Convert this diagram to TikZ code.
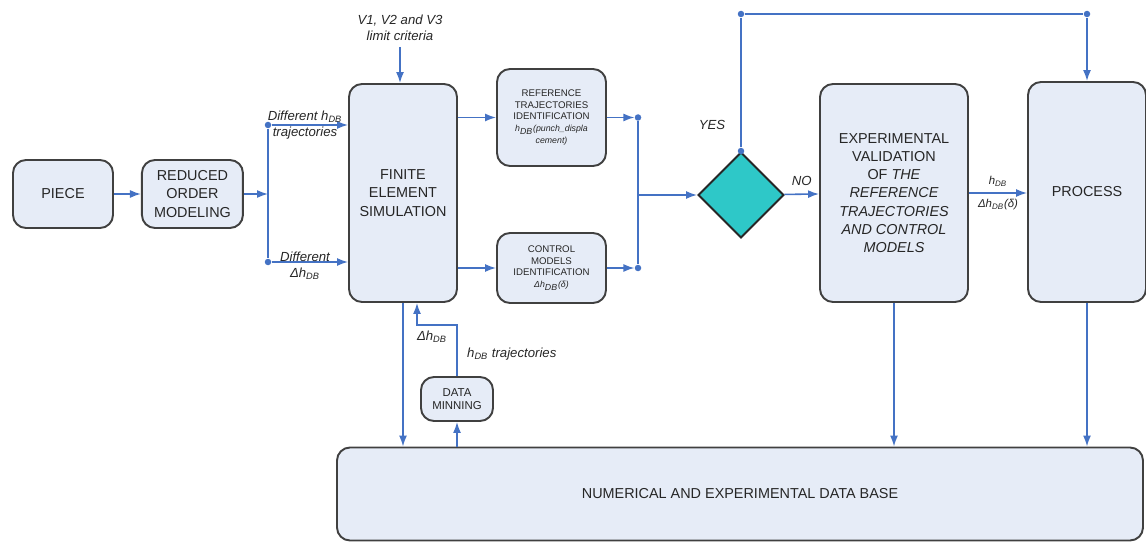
\documentclass[tikz,border=0pt]{standalone}
\usepackage{fontspec}
\setmainfont{Liberation Sans}
\usetikzlibrary{shapes.geometric, arrows.meta, positioning, calc}
\definecolor{flowblue}{RGB}{68,114,196}
\definecolor{boxfill}{RGB}{230,236,247}
\definecolor{decision}{RGB}{46,200,200}
\newcommand{\hdb}{\textit{h}\textsubscript{\textit{DB}}}

\begin{document}
\begin{tikzpicture}[
  box/.style={rectangle, rounded corners=0.26cm, draw=black!75, line width=1.1pt, fill=boxfill, align=center, font=\fontsize{8.2}{10.4}\selectfont, text=black!85},
  tinybox/.style={box, font=\fontsize{5.5}{6.6}\selectfont, inner sep=1pt},
  arrow/.style={-{Latex[length=2.2mm,width=1.6mm]}, flowblue, line width=0.9pt},
  link/.style={flowblue, line width=0.9pt},
  dot/.style={circle, fill=flowblue, inner sep=0pt, minimum size=1.3mm},
  lbl/.style={font=\fontsize{7.5}{9}\selectfont\itshape, text=black!85, align=center}
]
\useasboundingbox (0,0) rectangle (22.92,-10.86);

% main chain
\node (piece) [box, minimum width=2cm, minimum height=1.36cm] at (1.26,-3.88) {PIECE};
\node (rom) [box, minimum width=2.02cm, minimum height=1.36cm, right=0.54cm of piece] {REDUCED\\ORDER\\MODELING};
\node (fem) [box, minimum width=2.16cm, minimum height=4.36cm] at (8.06,-3.86) {FINITE\\ELEMENT\\SIMULATION};
\node (refid) [tinybox, minimum width=2.18cm, minimum height=1.94cm] at (11.03,-2.35)
  {REFERENCE\\TRAJECTORIES\\IDENTIFICATION\\{\fontsize{5}{6.6}\selectfont\itshape h\textsubscript{DB}(punch\_displa}\\{\fontsize{5}{6.6}\selectfont\itshape cement)}};
\node (ctrlid) [tinybox, minimum width=2.18cm, minimum height=1.4cm] at (11.03,-5.36)
  {CONTROL\\MODELS\\IDENTIFICATION\\{\fontsize{5}{6.6}\selectfont\itshape Δh\textsubscript{DB}(δ)}};
\node (check) [diamond, draw=black!85, line width=1.1pt, fill=decision, minimum width=1.72cm, minimum height=1.72cm, inner sep=0pt] at (14.82,-3.9) {};
\node (expval) [box, minimum width=2.96cm, minimum height=4.36cm] at (17.88,-3.86)
  {EXPERIMENTAL\\VALIDATION\\OF \textit{THE}\\\textit{REFERENCE}\\\textit{TRAJECTORIES}\\\textit{AND CONTROL}\\\textit{MODELS}};
\node (process) [box, minimum width=2.36cm, minimum height=4.4cm] at (21.74,-3.84) {PROCESS};
\node (db) [box, minimum width=16.12cm, minimum height=1.86cm] at (14.8,-9.88) {NUMERICAL AND EXPERIMENTAL DATA BASE};
\node (dm) [tinybox, font=\fontsize{6.5}{7.8}\selectfont, minimum width=1.44cm, minimum height=0.88cm] at (9.14,-7.98) {DATA\\MINNING};

% split after the reduced model
\node (dtop) [dot] at (5.36,-2.5) {};
\node (dbot) [dot] at (5.36,-5.24) {};
\draw [arrow] (piece) -- (rom);
\draw [arrow] (rom) -- (rom -| dtop);
\draw [link] (dtop) -- (dbot);
\draw [arrow] (dtop) -- (dtop -| fem.west);
\draw [arrow] (dbot) -- (dbot -| fem.west);
\node [lbl] at (6.1,-2.5) {Different \hdb\\trajectories};
\node [lbl] at (6.1,-5.32) {Different\\Δ\hdb};

\node (crit) [lbl] at (8.0,-0.56) {V1, V2 and V3\\limit criteria};
\draw [arrow] (crit.south) -- (crit.south |- fem.north);

% identification and merge
\draw [arrow] (fem.east |- refid) -- (refid);
\draw [arrow] (fem.east |- ctrlid) -- (ctrlid);
\node (mtop) [dot] at (12.76,-2.35) {};
\node (mbot) [dot] at (12.76,-5.36) {};
\draw [arrow] (refid) -- (mtop);
\draw [arrow] (ctrlid) -- (mbot);
\draw [link] (mtop) -- (mbot);
\draw [arrow] (mtop |- check) -- (check);

% decision
\draw [arrow] (check) -- node[lbl, above=1pt] {NO} (expval);
\node (cdot) [dot] at (check.north) {};
\coordinate (toprow) at (0,-0.28);
\node (ytop) [dot] at (cdot |- toprow) {};
\node (ptop) [dot] at (process.north |- toprow) {};
\draw [link] (cdot) -- (ytop) -- (ptop);
\draw [arrow] (ptop) -- (process.north);
\node [lbl] at (14.24,-2.5) {YES};

\draw [arrow] (expval.east) -- node[lbl, font=\fontsize{6.5}{7.8}\selectfont\itshape, above] {\hdb} node[lbl, font=\fontsize{6.5}{7.8}\selectfont\itshape, below] {Δ\hdb(δ)} (expval.east -| process.west);

% data base links
\draw [arrow] (fem) -- (fem |- db.north);
\draw [arrow] (expval) -- (expval |- db.north);
\draw [arrow] (process) -- (process |- db.north);
\draw [arrow] (dm |- db.north) -- (dm);
\coordinate (dmturn) at (9.14,-6.5);
\coordinate (fbturn) at (8.34,-6.5);
\draw [arrow] (dm.north) -- (dmturn) -- (fbturn) -- (fbturn |- fem.south);
\node [lbl] at (8.64,-6.74) {Δ\hdb};
\node [lbl, anchor=west] at (9.22,-7.08) {\hdb\ trajectories};

\end{tikzpicture}
\end{document}
